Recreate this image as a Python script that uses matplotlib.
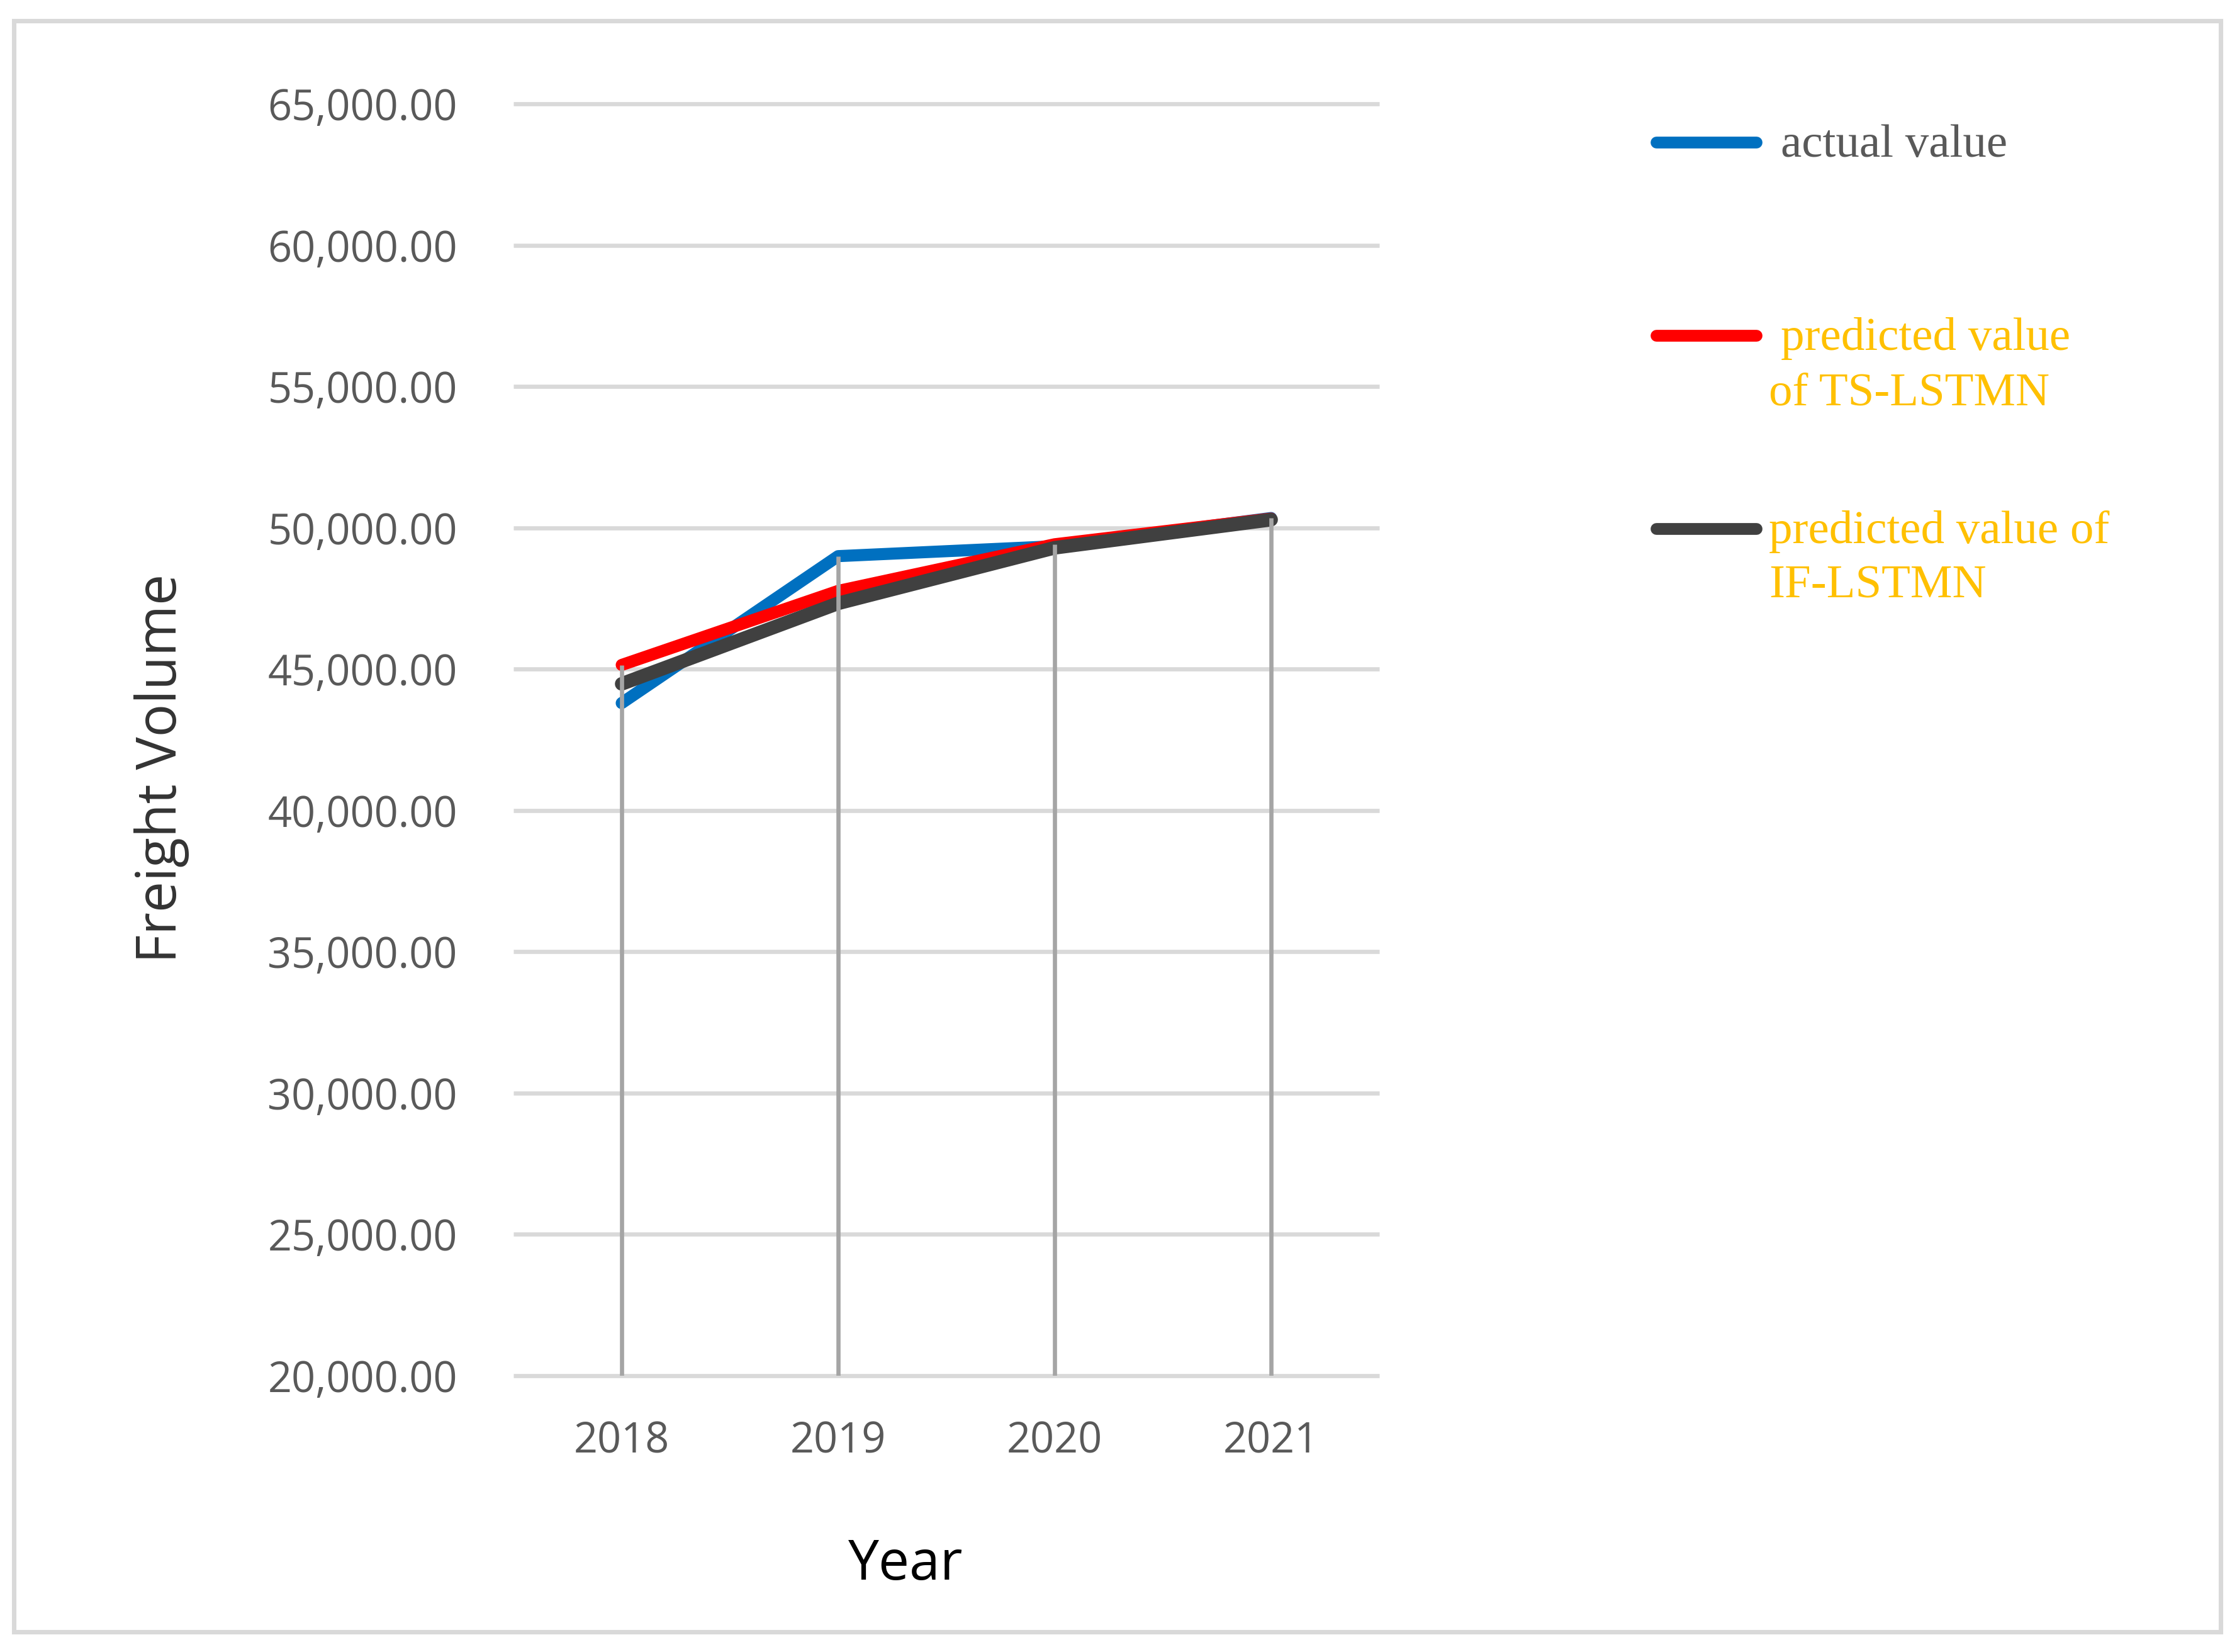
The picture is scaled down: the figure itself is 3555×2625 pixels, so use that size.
import numpy as np
import matplotlib.pyplot as plt
from matplotlib.lines import Line2D
from matplotlib.patches import Rectangle

# data
years = ['2018', '2019', '2020', '2021']
actual_value = [43800, 49000, 49350, 50350]
ts_lstmn = [45150, 47770, 49420, 50330]
if_lstmn = [44480, 47330, 49295, 50290]
y_ticks = [20000, 25000, 30000, 35000, 40000, 45000, 50000, 55000, 60000, 65000]

W, H = 3555, 2625
DPI = 300

def fx(px):
    return px / W

def fy(py):
    return 1 - py / H

plt.rcParams['font.family'] = ['Open Sans', 'DejaVu Sans']

fig = plt.figure(figsize=(W / DPI, H / DPI), dpi=DPI)
ax = fig.add_axes([fx(816), fy(2185.8), fx(2192) - fx(816), fy(165.3) - fy(2185.8)])

x = np.arange(len(years))
ax.set_xlim(-0.5, len(years) - 0.5)
ax.set_ylim(y_ticks[0], y_ticks[-1])

# gridlines
ax.hlines(y_ticks, -0.5, len(years) - 0.5, color='#d9d9d9', lw=1.6, zorder=1, clip_on=False)

ax.plot(x, actual_value, color='#0070c0', lw=4.6, solid_capstyle='round', solid_joinstyle='round', zorder=3)
ax.plot(x, ts_lstmn, color='#ff0000', lw=4.6, solid_capstyle='round', solid_joinstyle='round', zorder=4)
ax.plot(x, if_lstmn, color='#404040', lw=5.2, solid_capstyle='round', solid_joinstyle='round', zorder=5)

# drop lines (excel style), drawn over the series
tops = np.maximum(np.maximum(actual_value, ts_lstmn), if_lstmn)
ax.vlines(x, y_ticks[0], tops, color='#a5a5a5', lw=1.6, zorder=6)

ax.set_xticks(x)
ax.set_xticklabels(years)
ax.set_yticks(y_ticks)
ax.set_yticklabels([f'{v:,.2f}' for v in y_ticks])
ax.tick_params(axis='both', length=0, labelsize=16, labelcolor='#595959')
ax.tick_params(axis='y', pad=21.4)
ax.tick_params(axis='x', pad=17)
for s in ax.spines.values():
    s.set_visible(False)

fig.text(fx(280), fy(1221), 'Freight Volume', rotation=90, rotation_mode='anchor',
         ha='center', va='baseline', fontsize=21, color='#333333')
fig.text(fx(1439), fy(2510), 'Year', ha='center', va='baseline', fontsize=21, color='black')

# legend, laid out by hand like the original
leg_font = ['Liberation Serif', 'DejaVu Serif']
handles = [(226, '#0070c0'), (533, '#ff0000'), (840, '#404040')]
for hy, col in handles:
    fig.add_artist(Line2D([fx(2632), fx(2791)], [fy(hy), fy(hy)], color=col, lw=4.5,
                          solid_capstyle='round'))

leg_texts = [
    (2830, 249, 'actual value', '#595959'),
    (2830, 556, 'predicted value', '#ffc000'),
    (2811, 643, 'of TS-LSTMN', '#ffc000'),
    (2811, 863, 'predicted value of', '#ffc000'),
    (2811, 949, 'IF-LSTMN', '#ffc000'),
]
for tx, ty, s, col in leg_texts:
    fig.text(fx(tx), fy(ty), s, ha='left', va='baseline', fontsize=18, color=col, family=leg_font)

# outer border
fig.add_artist(Rectangle((fx(21.5), fy(2592.5)), fx(3528.5) - fx(21.5), fy(32.5) - fy(2592.5),
                         fill=False, edgecolor='#d9d9d9', lw=1.7, transform=fig.transFigure))

fig.savefig('out.png', dpi=DPI)
